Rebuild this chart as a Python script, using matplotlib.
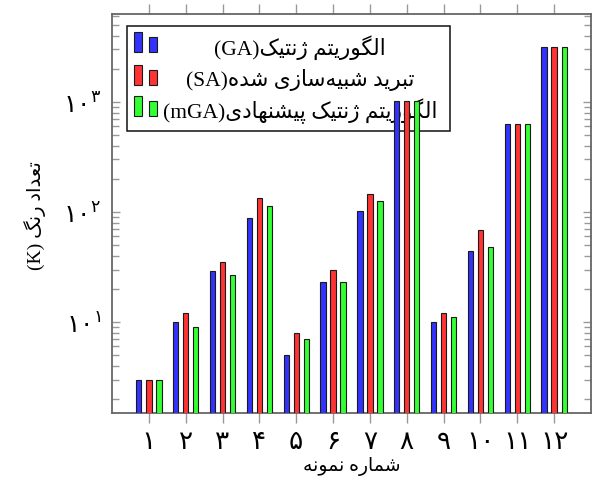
import matplotlib
matplotlib.use('Agg')
import matplotlib.pyplot as plt
from matplotlib.patches import Rectangle
from matplotlib.ticker import FixedLocator, FixedFormatter
import numpy as np

# ---------------- data ----------------
group_labels = ['۱', '۲', '۳', '۴', '۵', '۶', '۷', '۸', '۹', '۱۰', '۱۱', '۱۲']
ga_values = [3, 10, 29, 88, 5, 23, 103, 1020, 10, 44, 630, 3130]
sa_values = [3, 12, 35, 133, 8, 30, 145, 1020, 12, 68, 630, 3130]
mga_values = [3, 9, 27, 114, 7, 23, 126, 1020, 11, 48, 630, 3130]
ytick_values = [10, 100, 1000]
ytick_labels = [r'$\mathrm{۱۰}^{\mathrm{۱}}$', r'$\mathrm{۱۰}^{\mathrm{۲}}$', r'$\mathrm{۱۰}^{\mathrm{۳}}$']
series_names = ['الگوریتم ژنتیک', 'تبرید شبیه\u200cسازی شده', 'الگوریتم ژنتیک پیشنهادی']
series_tags = ['(GA)', '(SA)', '(mGA)']
xlabel_text = 'شماره نمونه'
ylabel_text = 'تعداد رنگ'
ylabel_tag = '(K)'

# ---------------- minimal Arabic/Persian shaping ----------------
FORMS = {
    'ا': ('\uFE8D', '\uFE8E', None, None),
    'آ': ('\uFE81', '\uFE82', None, None),
    'ب': ('\uFE8F', '\uFE90', '\uFE91', '\uFE92'),
    'پ': ('\uFB56', '\uFB57', '\uFB58', '\uFB59'),
    'ت': ('\uFE95', '\uFE96', '\uFE97', '\uFE98'),
    'ث': ('\uFE99', '\uFE9A', '\uFE9B', '\uFE9C'),
    'ج': ('\uFE9D', '\uFE9E', '\uFE9F', '\uFEA0'),
    'چ': ('\uFB7A', '\uFB7B', '\uFB7C', '\uFB7D'),
    'ح': ('\uFEA1', '\uFEA2', '\uFEA3', '\uFEA4'),
    'خ': ('\uFEA5', '\uFEA6', '\uFEA7', '\uFEA8'),
    'د': ('\uFEA9', '\uFEAA', None, None),
    'ذ': ('\uFEAB', '\uFEAC', None, None),
    'ر': ('\uFEAD', '\uFEAE', None, None),
    'ز': ('\uFEAF', '\uFEB0', None, None),
    'ژ': ('\uFB8A', '\uFB8B', None, None),
    'س': ('\uFEB1', '\uFEB2', '\uFEB3', '\uFEB4'),
    'ش': ('\uFEB5', '\uFEB6', '\uFEB7', '\uFEB8'),
    'ص': ('\uFEB9', '\uFEBA', '\uFEBB', '\uFEBC'),
    'ض': ('\uFEBD', '\uFEBE', '\uFEBF', '\uFEC0'),
    'ط': ('\uFEC1', '\uFEC2', '\uFEC3', '\uFEC4'),
    'ظ': ('\uFEC5', '\uFEC6', '\uFEC7', '\uFEC8'),
    'ع': ('\uFEC9', '\uFECA', '\uFECB', '\uFECC'),
    'غ': ('\uFECD', '\uFECE', '\uFECF', '\uFED0'),
    'ف': ('\uFED1', '\uFED2', '\uFED3', '\uFED4'),
    'ق': ('\uFED5', '\uFED6', '\uFED7', '\uFED8'),
    'ک': ('\uFB8E', '\uFB8F', '\uFB90', '\uFB91'),
    'گ': ('\uFB92', '\uFB93', '\uFB94', '\uFB95'),
    'ل': ('\uFEDD', '\uFEDE', '\uFEDF', '\uFEE0'),
    'م': ('\uFEE1', '\uFEE2', '\uFEE3', '\uFEE4'),
    'ن': ('\uFEE5', '\uFEE6', '\uFEE7', '\uFEE8'),
    'ه': ('\uFEE9', '\uFEEA', '\uFEEB', '\uFEEC'),
    'و': ('\uFEED', '\uFEEE', None, None),
    'ی': ('\uFBFC', '\uFBFD', '\uFBFE', '\uFBFF'),
    'ي': ('\uFEF1', '\uFEF2', '\uFEF3', '\uFEF4'),
}


def shape_rtl(s):
    chars = list(s)
    out = []
    for i, c in enumerate(chars):
        if c == '\u200c':
            continue
        if c not in FORMS:
            out.append(c)
            continue
        prev = chars[i - 1] if i > 0 else None
        nxt = chars[i + 1] if i + 1 < len(chars) else None
        conn_prev = prev in FORMS and FORMS[prev][2] is not None
        conn_next = (nxt in FORMS) and FORMS[c][2] is not None
        iso, fin, ini, med = FORMS[c]
        if conn_prev and conn_next:
            g = med
        elif conn_prev:
            g = fin
        elif conn_next:
            g = ini
        else:
            g = iso
        out.append(g)
    return ''.join(reversed(out))


# ---------------- figure ----------------
plt.rcParams['mathtext.fontset'] = 'dejavusans'
W, H = 593, 482
fig = plt.figure(figsize=(W / 100, H / 100), dpi=100)
ax_l, ax_r, ax_t, ax_b = 112, 591, 14, 412.7
ax = fig.add_axes([ax_l / W, 1 - ax_b / H, (ax_r - ax_l) / W, (ax_b - ax_t) / H])

x = np.arange(1, len(group_labels) + 1)
off = 0.272
bw = 0.145
colors = ['#3333ff', '#ff3333', '#33ff33']
edge = '#1a1a1a'
for vals, dx, col in zip([ga_values, sa_values, mga_values], [-off, 0, off], colors):
    ax.bar(x + dx, vals, width=bw, color=col, edgecolor=edge, linewidth=0.8, zorder=3)

ax.set_yscale('log')
ax.set_ylim(1.5, 6300)
ax.set_xlim(0, 13)

ax.xaxis.set_major_locator(FixedLocator(x))
ax.xaxis.set_major_formatter(FixedFormatter(group_labels))
ax.yaxis.set_major_locator(FixedLocator(ytick_values))
ax.yaxis.set_major_formatter(FixedFormatter(ytick_labels))

tick_col = '#999999'
ax.tick_params(axis='x', which='both', direction='out', top=True, bottom=True,
               length=7, width=1.0, color=tick_col, pad=5, labelsize=19)
ax.tick_params(axis='y', which='major', direction='in', left=True, right=True,
               length=6, width=1.0, color=tick_col, pad=8, labelsize=18)
ax.tick_params(axis='y', which='minor', direction='in', left=True, right=True,
               length=5, width=1.0, color=tick_col)
for lab in ax.get_xticklabels():
    lab.set_fontfamily('DejaVu Sans')

for sp in ax.spines.values():
    sp.set_color('#666666')
    sp.set_linewidth(1.3)

mixed = ['Liberation Serif', 'DejaVu Sans']
ax.set_xlabel(shape_rtl(xlabel_text), fontsize=13.5, family=mixed)
ax.xaxis.label.set_va('center')
ax.xaxis.set_label_coords(0.5, -(467 - ax_b) / (ax_b - ax_t))
ax.set_ylabel(ylabel_tag + ' ' + shape_rtl(ylabel_text), fontsize=14, family=mixed)
ax.yaxis.label.set_va('center')
ax.yaxis.label.set_ha('center')
ax.yaxis.set_label_coords((35 - ax_l) / (ax_r - ax_l), (ax_b - 216) / (ax_b - ax_t))

# ---------------- legend (drawn beneath bars, as in reference) ----------------
def fx(px):
    return px / W


def fy(py):
    return 1 - py / H


fig_tr = fig.transFigure
box = Rectangle((fx(127), fy(131)), fx(450) - fx(127), fy(26) - fy(131), transform=fig_tr,
                facecolor='white', edgecolor='#111111', linewidth=1.1, zorder=1)
ax.add_patch(box)
box.set_clip_on(False)
row_icon_top = [32, 65, 96]
row_text_y = [48, 80, 111]
for col, top, ty, name, tag in zip(colors, row_icon_top, row_text_y, series_names, series_tags):
    r1 = Rectangle((fx(134), fy(top + 20)), fx(142) - fx(134), fy(top) - fy(top + 20),
                   transform=fig_tr, facecolor=col, edgecolor=edge, linewidth=0.8, zorder=1.5)
    r2 = Rectangle((fx(149), fy(top + 20)), fx(156.5) - fx(149), fy(top + 5) - fy(top + 20),
                   transform=fig_tr, facecolor=col, edgecolor=edge, linewidth=0.8, zorder=1.5)
    for r in (r1, r2):
        r.set_clip_on(False)
        ax.add_patch(r)
    ax.text(fx(300), fy(ty), tag + shape_rtl(name), transform=fig_tr, ha='center', va='center',
            fontsize=15.5, family=mixed, zorder=1.6)

fig.savefig('out.png', dpi=100)
